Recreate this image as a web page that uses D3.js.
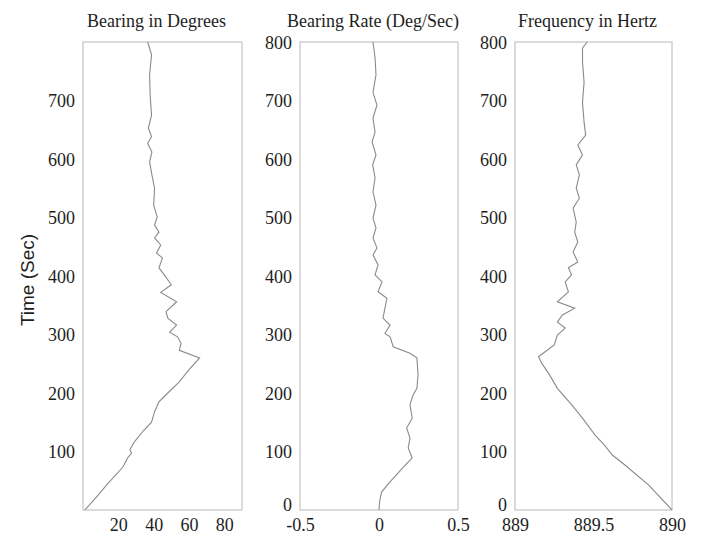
<!DOCTYPE html>
<html><head><meta charset="utf-8">
<script src="https://cdn.jsdelivr.net/npm/d3@7"></script>
<style>
html,body{margin:0;padding:0;background:#fff;}
svg{display:block;}
</style></head>
<body>
<svg id="chart" width="703" height="535"></svg>
<script>
// ---- data ----
const panelTitles = ["Bearing in Degrees", "Bearing Rate (Deg/Sec)", "Frequency in Hertz"];
const yLabel = "Time (Sec)";
const timeTicks1 = [100, 200, 300, 400, 500, 600, 700];
const timeTicks = [0, 100, 200, 300, 400, 500, 600, 700, 800];
const bearingTicks = [20, 40, 60, 80];
const rateTicks = [-0.5, 0, 0.5];
const freqTicks = [889, 889.5, 890];
const rateTickLabels = ["-0.5", "0", "0.5"];
const freqTickLabels = ["889", "889.5", "890"];

const bearingTime = [0, 20, 45, 73, 90, 97, 103, 116, 135, 150, 168, 185, 200, 219, 240, 260, 273, 285, 296, 304, 316, 328, 339, 356, 372, 385, 402, 414, 431, 439, 453, 465, 475, 487, 501, 521, 550, 573, 595, 612, 627, 638, 653, 675, 709, 744, 778, 800];
const bearingDeg  = [1, 7, 14, 22.5, 25.5, 27.5, 26.5, 29, 34, 38.8, 40.5, 43, 48, 54.5, 60, 66, 54.5, 55.5, 53.5, 49, 53, 48, 47, 53, 44, 50, 46, 43, 45, 41.6, 44, 40.5, 43, 40.5, 42, 40, 40.5, 39, 37.7, 39, 36.6, 38.8, 37, 38.8, 38, 37.7, 38.8, 36.6];

const rateTime = [0, 15, 31, 48, 72, 89, 106, 123, 140, 157, 180, 196, 208, 231, 260, 268, 279, 296, 302, 316, 328, 345, 362, 373, 390, 402, 419, 436, 448, 465, 482, 499, 521, 544, 568, 590, 607, 629, 646, 670, 692, 714, 744, 773, 800];
const rateVal  = [0, 0.004, 0.017, 0.07, 0.15, 0.21, 0.185, 0.196, 0.175, 0.21, 0.196, 0.215, 0.24, 0.247, 0.24, 0.196, 0.09, 0.07, 0.038, 0.07, 0.025, 0.038, 0.05, -0.006, 0.019, -0.025, -0.006, -0.038, -0.013, -0.038, -0.019, -0.038, -0.019, -0.038, -0.025, -0.04, -0.019, -0.044, -0.025, -0.038, -0.013, -0.038, -0.019, -0.025, -0.038];

const freqTime = [0, 43, 77, 94, 111, 128, 157, 180, 208, 231, 251, 262, 270, 282, 299, 311, 321, 333, 345, 356, 373, 390, 402, 414, 424, 441, 458, 475, 492, 516, 533, 550, 573, 590, 607, 624, 641, 663, 697, 731, 766, 790, 800];
const freqVal  = [890, 889.85, 889.70, 889.62, 889.57, 889.51, 889.43, 889.36, 889.27, 889.22, 889.17, 889.15, 889.19, 889.25, 889.27, 889.32, 889.27, 889.30, 889.38, 889.27, 889.34, 889.32, 889.36, 889.34, 889.40, 889.37, 889.40, 889.38, 889.39, 889.37, 889.41, 889.39, 889.41, 889.39, 889.43, 889.40, 889.45, 889.44, 889.43, 889.44, 889.43, 889.43, 889.46];

// ---- drawing ----
const svg = d3.select("#chart");
const y = d3.scaleLinear().domain([0, 800]).range([510, 42]);
const serif = "'Liberation Serif','Times New Roman',serif";
const textColor = "#1e1e1e";
const frameColor = "#c4c4c4";
const lineColor = "#8a8a8a";

const panels = [
  {title: panelTitles[0], x: d3.scaleLinear().domain([0, 90]).range([83, 242]),
   xt: bearingTicks, xl: bearingTicks.map(String), yt: timeTicks1, t: bearingTime, v: bearingDeg},
  {title: panelTitles[1], x: d3.scaleLinear().domain([-0.5, 0.5]).range([300, 458]),
   xt: rateTicks, xl: rateTickLabels, yt: timeTicks, t: rateTime, v: rateVal},
  {title: panelTitles[2], x: d3.scaleLinear().domain([889, 890]).range([515, 672]),
   xt: freqTicks, xl: freqTickLabels, yt: timeTicks, t: freqTime, v: freqVal}
];

panels.forEach(p => {
  const [x0, x1] = p.x.range();
  const g = svg.append("g");
  // frame
  g.append("rect").attr("x", x0).attr("y", y(800)).attr("width", x1 - x0).attr("height", y(0) - y(800))
    .attr("fill", "none").attr("stroke", frameColor).attr("stroke-width", 1.2);
  // y axis labels
  const ya = d3.axisLeft(y).tickValues(p.yt).tickSize(0).tickPadding(8).tickFormat(d3.format("d"));
  const yg = g.append("g").attr("transform", `translate(${x0},0)`).call(ya);
  yg.select(".domain").remove();
  yg.selectAll("text").attr("font-family", serif).attr("font-size", 18).attr("fill", textColor)
    .attr("dy", d => d === 0 ? "0em" : "0.36em");
  // x axis labels
  const xa = d3.axisBottom(p.x).tickValues(p.xt).tickSize(0).tickPadding(8)
    .tickFormat((d, i) => p.xl[i]);
  const xg = g.append("g").attr("transform", `translate(0,${y(0)})`).call(xa);
  xg.select(".domain").remove();
  xg.selectAll("text").attr("font-family", serif).attr("font-size", 18).attr("fill", textColor)
    .attr("dy", "0.7em");
  // title
  g.append("text").attr("x", (x0 + x1) / 2 - 6).attr("y", 27).attr("text-anchor", "middle")
    .attr("font-family", serif).attr("font-size", 18).attr("fill", textColor).text(p.title);
  // line
  const pts = p.t.map((t, i) => [t, p.v[i]]);
  g.append("path").datum(pts)
    .attr("d", d3.line().x(d => p.x(d[1])).y(d => y(d[0])))
    .attr("fill", "none").attr("stroke", lineColor).attr("stroke-width", 1.1);
});

svg.append("text").attr("transform", "translate(34,280) rotate(-90)").attr("text-anchor", "middle")
  .attr("font-family", "'Liberation Sans',Arial,sans-serif").attr("font-size", 19).attr("fill", textColor)
  .text(yLabel);
</script>
</body></html>
